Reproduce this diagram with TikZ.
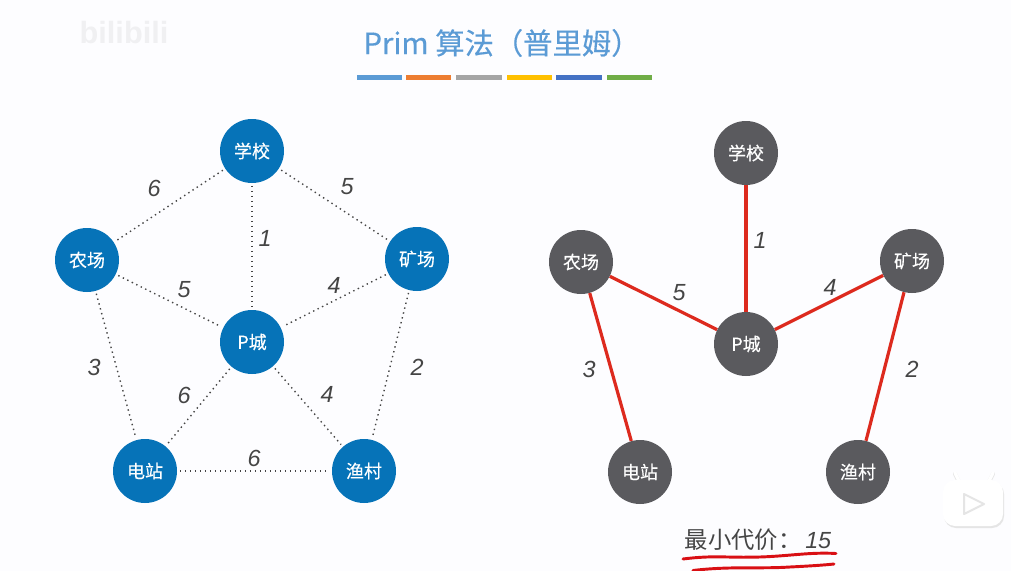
\documentclass[tikz,border=0pt]{standalone}
\usepackage{fontspec}
\setmainfont{Liberation Sans}
\newfontfamily\cjk{Noto Sans CJK SC}
\newfontfamily\cjkmed[FakeBold=0.35]{Noto Sans CJK SC}
\usepackage{xcolor}
\usetikzlibrary{arrows.meta,calc,positioning}
\definecolor{paper}{HTML}{FDFDFF}
\definecolor{titleblue}{HTML}{5B9BD5}
\definecolor{cityblue}{HTML}{0673B8}
\definecolor{cityslate}{HTML}{5A5A5E}
\definecolor{inkgray}{HTML}{454545}
\definecolor{treered}{HTML}{DD2A1E}
\definecolor{penred}{HTML}{D90F14}
\definecolor{markgray}{HTML}{F0F0F2}
\tikzset{
  city/.style={circle,minimum size=48pt,inner sep=0pt,text=white,font=\cjkmed\fontsize{13.5}{13.5}\selectfont},
  dotedge/.style={inkgray,line width=1.05pt,dash pattern=on 1.05pt off 2.7pt,shorten >=2pt,shorten <=2pt},
  treeedge/.style={treered,line width=2.4pt},
  cost/.style={inkgray,font=\itshape\fontsize{17.5}{17.5}\selectfont},
  penline/.style={penred,line width=2.2pt,line cap=round}
}
\begin{document}
\begin{tikzpicture}[x=.75pt,y=-.75pt]
\useasboundingbox (0,0) rectangle (1011,571);
\fill[paper] (0,0) rectangle (1011,571);
% header
\node[markgray,font=\bfseries\fontsize{23}{23}\selectfont] (mark) at (124,33) {bilibili};
\node[titleblue,font=\cjkmed\fontsize{22}{22}\selectfont] (title) at (502,43) {Prim 算法（普里姆）};
\foreach \a/\b/\c in {357/402/5B9BD5,406/451/ED7D31,456/502/A5A5A5,507/552/FFC000,556/602/4472C4,607/652/70AD47}{
  \definecolor{barcol}{HTML}{\c}
  \fill[barcol] (\a,74.5) rectangle (\b,79.5);
}

% left graph
\foreach \n/\x/\y/\t in {school/252/151/学校,farm/87/260/农场,mine/417/259/矿场,pcity/252/342/P城,plant/145/471/电站,village/364/471/渔村}
  \node[city,fill=cityblue] (\n) at (\x,\y) {\t};
\foreach \a/\b in {school/farm,school/mine,school/pcity,farm/pcity,mine/pcity,farm/plant,mine/village,pcity/plant,pcity/village,plant/village}
  \draw[dotedge] (\a)--(\b);
\foreach \n/\x/\y/\v in {c1/154/188/6,c2/347/187/5,c3/265/238/1,c4/184/290/5,c5/334/285/4,c6/94/367/3,c7/417/367/2,c8/184/395/6,c9/327/394/4,c10/254/458/6}
  \node[cost] (\n) at (\x,\y) {\v};

% right tree
\foreach \n/\x/\y/\t in {rschool/746/153/学校,rfarm/581/262/农场,rmine/912/261/矿场,rpcity/746/344/P城,rplant/640/472/电站,rvillage/858/472/渔村}
  \node[city,fill=cityslate] (\n) at (\x,\y) {\t};
\foreach \a/\b in {rschool/rpcity,rfarm/rpcity,rmine/rpcity,rfarm/rplant,rmine/rvillage}
  \draw[treeedge] (\a)--(\b);
\foreach \n/\x/\y/\v in {r1/760/240/1,r2/679/293/5,r3/830/287/4,r4/589/369/3,r5/912/369/2}
  \node[cost] (\n) at (\x,\y) {\v};

% total
\node[inkgray,font=\cjk\fontsize{17.5}{17.5}\selectfont,anchor=west] (total) at (680,540) {最小代价：\,{\rmfamily\itshape 15}};
\draw[penline] (683,559) .. controls (715,555) and (725,558) .. (760,557) .. controls (790,556) and (810,552) .. (836,553.5);
\draw[penline] (693,570.5) .. controls (730,566) and (760,569) .. (790,567) .. controls (810,566) and (825,565) .. (834,564);

% player badge
\fill[black!10,rounded corners=9pt] (944,482) rectangle (1004,528);
\draw[black!10,line width=3pt,line cap=round] (960,484)--(955,474) (988,484)--(993,474);
\draw[white,line width=2.5pt,line cap=round] (960,483)--(955,473) (988,483)--(993,473);
\fill[white,rounded corners=9pt] (943,480) rectangle (1003,526);
\draw[black!10,line width=1.5pt,line join=round,fill=white] (964,494)--(984,504)--(964,514)--cycle;
\end{tikzpicture}
\end{document}
